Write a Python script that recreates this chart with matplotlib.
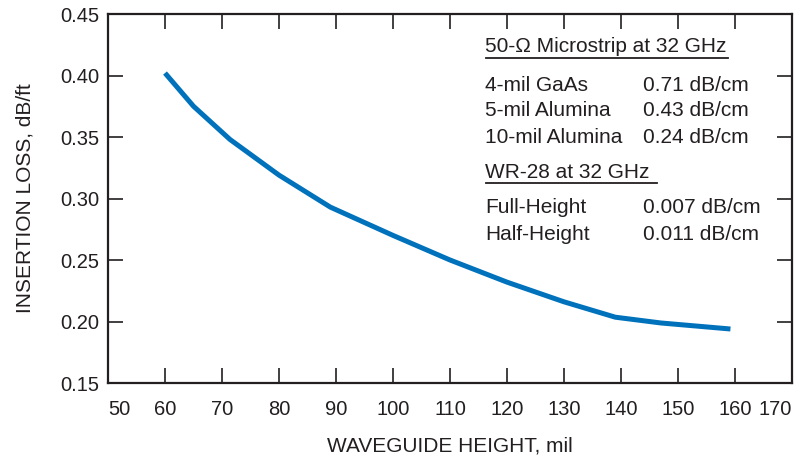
import matplotlib.pyplot as plt

# waveguide insertion loss vs height
height = [60, 65, 71.4, 80, 89, 100, 110, 120, 130, 139, 147, 159.2]
loss = [0.402, 0.375, 0.348, 0.319, 0.293, 0.270, 0.250, 0.232, 0.216, 0.2035, 0.1988, 0.1939]

xticks = [50, 60, 70, 80, 90, 100, 110, 120, 130, 140, 150, 160, 170]
yticks = [0.15, 0.20, 0.25, 0.30, 0.35, 0.40, 0.45]

micro_names = ["4-mil GaAs", "5-mil Alumina", "10-mil Alumina"]
micro_vals = ["0.71 dB/cm", "0.43 dB/cm", "0.24 dB/cm"]
wr_names = ["Full-Height", "Half-Height"]
wr_vals = ["0.007 dB/cm", "0.011 dB/cm"]

plt.rcParams['font.family'] = ['Liberation Sans', 'DejaVu Sans']
txt = '#231f20'

fig = plt.figure(figsize=(8, 4.61), dpi=100)
ax = fig.add_axes([108/800, 1-383/461, (792-108)/800, (383-14)/461])

ax.plot(height, loss, color='#0072bc', lw=3.6, solid_capstyle='butt')

ax.set_xlim(50, 170)
ax.set_ylim(0.15, 0.45)
ax.set_xticks(xticks)
ax.set_yticks(yticks)
ax.set_yticklabels([f"{v:.2f}" for v in yticks])
ax.tick_params(direction='in', length=11, width=1.2, top=True, right=True,
               labelsize=14.5, colors=txt)
ax.tick_params(axis='x', pad=12)
ax.tick_params(axis='y', pad=6)
for s in ax.spines.values():
    s.set_linewidth(1.6)
    s.set_color(txt)

# end labels sit inside the frame like the original
xl = ax.get_xticklabels()
xl[0].set_horizontalalignment('left')
xl[-1].set_horizontalalignment('right')

ax.set_xlabel("WAVEGUIDE HEIGHT, mil", fontsize=15, color=txt, labelpad=13)
ax.set_ylabel("INSERTION LOSS, dB/ft", fontsize=15, color=txt, labelpad=19)

def ftext(x, y, s):
    fig.text(x/800, 1-y/461, s, fontsize=15, color=txt, va='center', ha='left')

def uline(x0, x1, y):
    fig.add_artist(plt.Line2D([x0/800, x1/800], [1-y/461, 1-y/461],
                              transform=fig.transFigure, color=txt, lw=1.3))

ftext(485, 47, "50-\u03a9 Microstrip at 32 GHz")
uline(486, 728, 58)
for i, (n, v) in enumerate(zip(micro_names, micro_vals)):
    ftext(485, 85 + i*26, n)
    ftext(643, 85 + i*26, v)

ftext(485, 173, "WR-28 at 32 GHz")
uline(486, 657, 183)
for i, (n, v) in enumerate(zip(wr_names, wr_vals)):
    ftext(485, 207 + i*27, n)
    ftext(643, 207 + i*27, v)

fig.savefig("out.png", dpi=100)
